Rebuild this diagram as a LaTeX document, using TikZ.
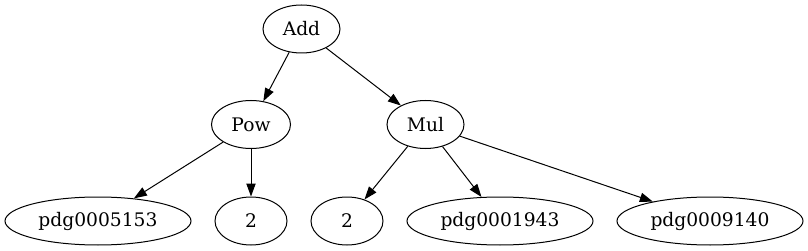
\documentclass[tikz,border=0pt]{standalone}
\usepackage{fontspec}
\setmainfont{DejaVu Serif}
\usetikzlibrary{shapes.geometric,arrows.meta}
\begin{document}
\begin{tikzpicture}[x=1pt,y=-1pt,
  gnode/.style={draw, ellipse, line width=1pt, inner sep=0pt, minimum height=48pt, font=\fontsize{18.67}{22}\selectfont},
  conn/.style={line width=1pt, -{Triangle[length=13pt,width=9.3pt]}}]
\useasboundingbox (0,0) rectangle (808,251);
\node[gnode, minimum width=77pt] (add) at (301.5,29) {Add};
\node[gnode, minimum width=79pt] (pow) at (251,124.5) {Pow};
\node[gnode, minimum width=77pt] (mul) at (425.5,124.5) {Mul};
\node[gnode, minimum width=186pt] (p1) at (98,221) {pdg0005153};
\node[gnode, minimum width=72pt] (t1) at (251,221) {2};
\node[gnode, minimum width=72pt] (t2) at (347,221) {2};
\node[gnode, minimum width=186pt] (p2) at (500,221) {pdg0001943};
\node[gnode, minimum width=186pt] (p3) at (710,221) {pdg0009140};
\draw[conn] (add) -- (pow);
\draw[conn] (add) -- (mul);
\draw[conn] (pow) -- (p1);
\draw[conn] (pow) -- (t1);
\draw[conn] (mul) -- (t2);
\draw[conn] (mul) -- (p2);
\draw[conn] (mul) -- (p3);
\end{tikzpicture}
\end{document}
